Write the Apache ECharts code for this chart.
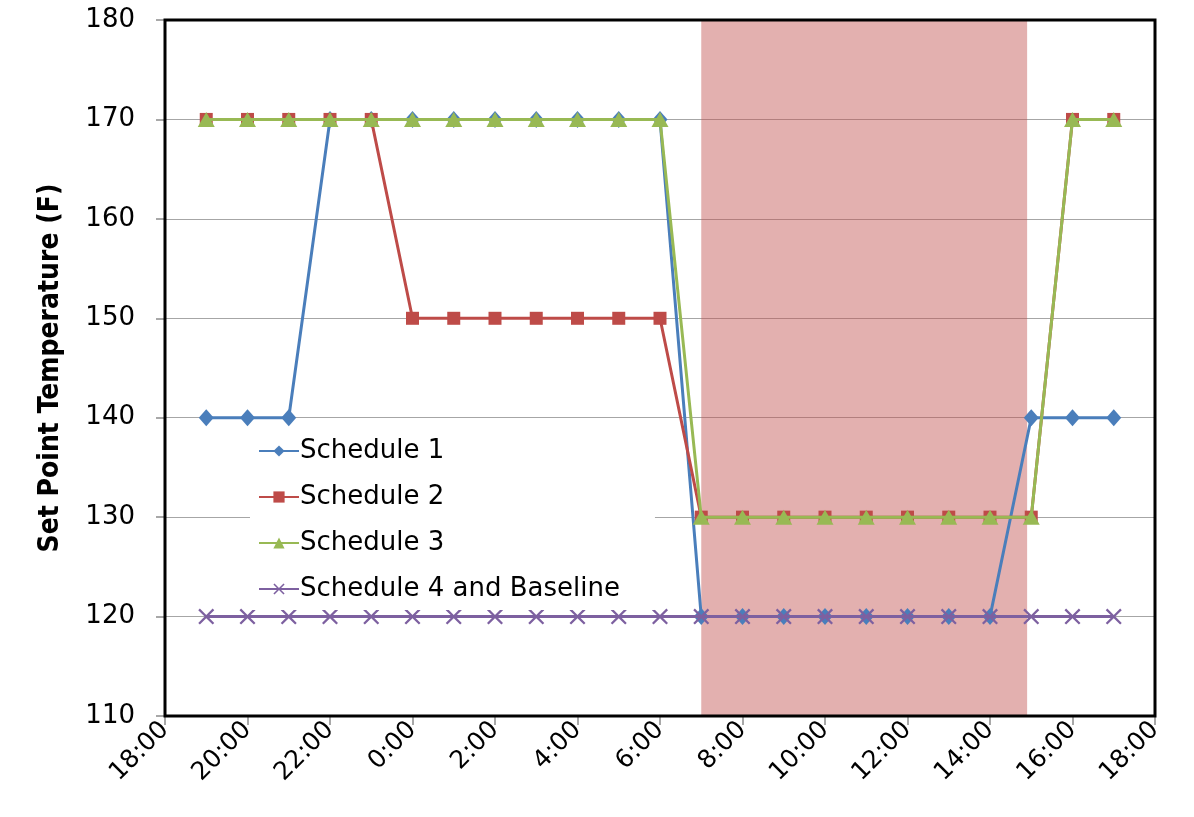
<!DOCTYPE html>
<html>
<head>
<meta charset="utf-8">
<script src="https://cdn.jsdelivr.net/npm/echarts@6/dist/echarts.min.js"></script>
<style>
  html, body { margin: 0; padding: 0; background: #ffffff; }
  #chart { width: 1194px; height: 817px; }
</style>
</head>
<body>
<div id="chart"></div>
<script>
// Hourly set points, 19:00 through 17:00 of the following day
const hours = ['19:00','20:00','21:00','22:00','23:00','0:00','1:00','2:00','3:00','4:00','5:00','6:00',
               '7:00','8:00','9:00','10:00','11:00','12:00','13:00','14:00','15:00','16:00','17:00'];
const schedule1 = [140,140,140,170,170,170,170,170,170,170,170,170,120,120,120,120,120,120,120,120,140,140,140];
const schedule2 = [170,170,170,170,170,150,150,150,150,150,150,150,130,130,130,130,130,130,130,130,130,170,170];
const schedule3 = [170,170,170,170,170,170,170,170,170,170,170,170,130,130,130,130,130,130,130,130,130,170,170];
const schedule4 = [120,120,120,120,120,120,120,120,120,120,120,120,120,120,120,120,120,120,120,120,120,120,120];
const seriesNames = ['Schedule 1', 'Schedule 2', 'Schedule 3', 'Schedule 4 and Baseline'];
// Shaded peak window (start / end time of day, in hours)
const peakWindow = [7, 14.9];
// Axis range: 18:00 to 18:00 the next day, ticks every two hours
const axisStartHour = 18;
const yTicks = { min: 110, max: 180, step: 10 };

const toOffset = h => ((h - axisStartHour) % 24 + 24) % 24;
const hourOf = s => parseFloat(s.split(':')[0]);
const pairs = vals => hours.map((h, i) => [toOffset(hourOf(h)), vals[i]]);

const crossPath = 'path://M0,1 L1,0 L5,4 L9,0 L10,1 L6,5 L10,9 L9,10 L5,6 L1,10 L0,9 L4,5 Z';
const styles = [
  { color: '#4a7ebb', symbol: 'diamond', size: [15, 17] },
  { color: '#be4b48', symbol: 'rect', size: 13 },
  { color: '#98b954', symbol: 'triangle', size: [17, 15] },
  { color: '#7d60a0', symbol: crossPath, size: 16 }
];
const values = [schedule1, schedule2, schedule3, schedule4];

const lineSeries = values.map((vals, i) => ({
  name: seriesNames[i],
  type: 'line',
  data: pairs(vals),
  symbol: styles[i].symbol,
  symbolSize: styles[i].size,
  showAllSymbol: true,
  z: 2 + i * 0.1,
  lineStyle: { color: styles[i].color, width: 3 },
  itemStyle: { color: styles[i].color, borderWidth: 0 },
  animation: false
}));

// Translucent band drawn above the lines
lineSeries.push({
  type: 'line',
  data: [],
  z: 5,
  silent: true,
  animation: false,
  markArea: {
    silent: true,
    itemStyle: { color: 'rgba(192,80,77,0.45)' },
    data: [[{ xAxis: toOffset(peakWindow[0]) }, { xAxis: toOffset(peakWindow[1]) }]]
  }
});

const chart = echarts.init(document.getElementById('chart'), null, { renderer: 'canvas' });
chart.setOption({
  animation: false,
  backgroundColor: '#ffffff',
  grid: {
    left: 165, right: 39, top: 20, bottom: 101,
    show: true, borderColor: '#000000', borderWidth: 3, backgroundColor: 'transparent', z: 6
  },
  legend: {
    data: seriesNames,
    orient: 'vertical',
    left: 250, top: 430,
    itemWidth: 40, itemHeight: 14,
    itemGap: 20,
    padding: [8, 35, 8, 8],
    backgroundColor: '#ffffff',
    textStyle: { fontFamily: 'DejaVu Sans', fontSize: 26, color: '#000000', padding: [0, 0, 0, -4] },
    z: 7
  },
  xAxis: {
    type: 'value',
    min: 0, max: 24, interval: 2,
    axisLine: { show: true, lineStyle: { color: '#000000', width: 2 } },
    axisTick: { show: true, length: 9, lineStyle: { color: '#8c8c8c', width: 1.5 } },
    splitLine: { show: false },
    axisLabel: {
      rotate: 45,
      margin: 10,
      fontFamily: 'DejaVu Sans', fontSize: 25, color: '#000000',
      formatter: v => ((axisStartHour + v) % 24) + ':00'
    }
  },
  yAxis: {
    type: 'value',
    min: yTicks.min, max: yTicks.max, interval: yTicks.step,
    name: 'Set Point Temperature (F)',
    nameLocation: 'middle',
    nameGap: 100,
    nameTextStyle: { fontFamily: 'DejaVu Sans Condensed', fontWeight: 'bold', fontSize: 28, color: '#000000' },
    axisLine: { show: true, lineStyle: { color: '#000000', width: 2 } },
    axisTick: { show: true, length: 9, lineStyle: { color: '#8c8c8c', width: 1.5 } },
    splitLine: { show: true, lineStyle: { color: '#a6a6a6', width: 1.2 } },
    axisLabel: { margin: 30, fontFamily: 'DejaVu Sans', fontSize: 26, color: '#000000' }
  },
  series: lineSeries
});
</script>
</body>
</html>
